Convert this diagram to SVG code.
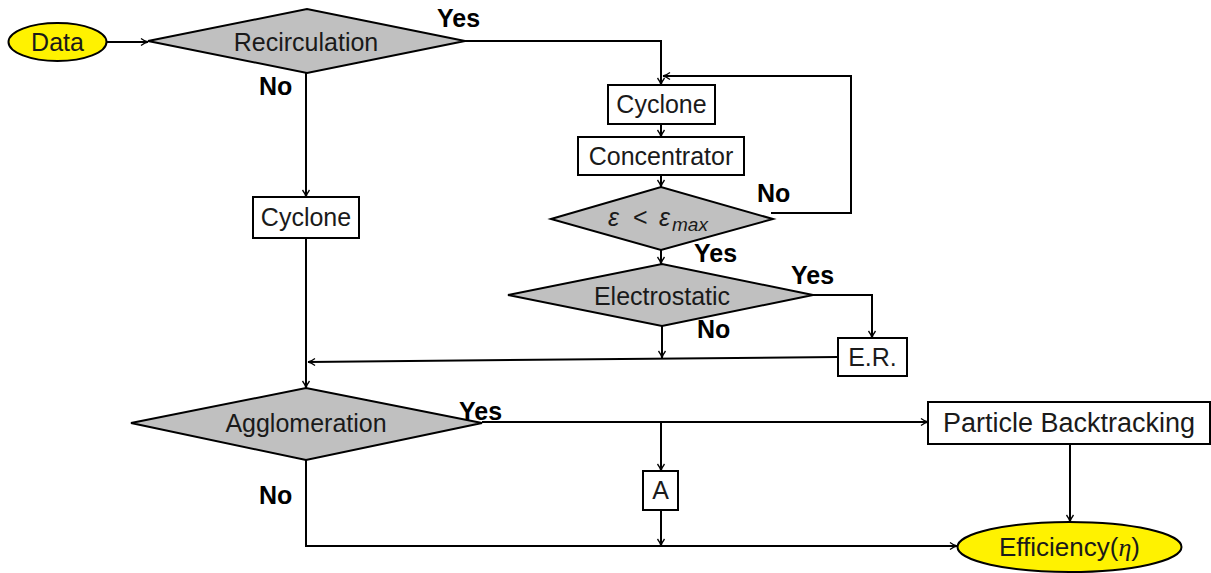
<svg xmlns="http://www.w3.org/2000/svg" width="1211" height="573" viewBox="0 0 1211 573">
  <style>
    .term { fill: #FFF200; stroke: #000; stroke-width: 2; }
    .dec { fill: #C0C0C0; stroke: #000; stroke-width: 2; }
    .box { fill: #FFFFFF; stroke: #000; stroke-width: 2; }
    .t { font-family: "Liberation Sans", Arial, sans-serif; font-size: 25px; fill: #1a1a1a; text-anchor: middle; }
    .lbl { font-family: "Liberation Sans", Arial, sans-serif; font-size: 25px; font-weight: bold; fill: #000; }
    .c { fill: none; stroke: #000; stroke-width: 2; }
    .ca { fill: none; stroke: #000; stroke-width: 2; marker-end: url(#arr); }
  </style>
  <defs>
    <marker id="arr" markerUnits="userSpaceOnUse" viewBox="-9 -5 10 10" refX="0" refY="0" markerWidth="10" markerHeight="10" orient="auto">
      <path d="M-7,-3.5 Q-3,-0.5 0,0 Q-3,0.5 -7,3.5" fill="none" stroke="#000" stroke-width="1.3"/>
    </marker>
  </defs>

  <g id="connectors">
    <path class="ca" d="M107,42 H148"/>
    <path class="ca" d="M465,41 H661 V85"/>
    <path class="ca" d="M306,73 V197"/>
    <path class="ca" d="M306,238 V388"/>
    <path class="ca" d="M661,124 V137"/>
    <path class="ca" d="M661,175 V187"/>
    <path class="ca" d="M771,213 H851 V76 H663"/>
    <path class="ca" d="M661,250 V264"/>
    <path class="ca" d="M813,295 H872 V338"/>
    <path class="ca" d="M662,326 V358"/>
    <path class="ca" d="M838,357 L308,362"/>
    <path class="ca" d="M482,422 H928"/>
    <path class="ca" d="M661,422 V471"/>
    <path class="ca" d="M661,510 V546"/>
    <path class="ca" d="M306,460 V546 H957"/>
    <path class="ca" d="M1070,444 V522"/>
    <text class="lbl" x="437" y="27">Yes</text>
    <text class="lbl" x="259" y="95">No</text>
    <text class="lbl" x="757" y="202">No</text>
    <text class="lbl" x="694" y="262">Yes</text>
    <text class="lbl" x="791" y="284">Yes</text>
    <text class="lbl" x="697" y="338">No</text>
    <text class="lbl" x="459" y="420">Yes</text>
    <text class="lbl" x="259" y="504">No</text>
  </g>

  <g id="data">
    <ellipse class="term" cx="57.5" cy="42" rx="49" ry="19"/>
    <text class="t" x="57.5" y="51">Data</text>
  </g>

  <g id="recirculation">
    <polygon class="dec" points="148,41 307,9 465,41 307,73"/>
    <text class="t" x="306" y="51">Recirculation</text>
  </g>

  <g id="cyclone-left">
    <rect class="box" x="253" y="197" width="106" height="41"/>
    <text class="t" x="306" y="226">Cyclone</text>
  </g>

  <g id="cyclone-right">
    <rect class="box" x="608" y="85" width="107" height="39"/>
    <text class="t" x="661.5" y="113">Cyclone</text>
  </g>

  <g id="concentrator">
    <rect class="box" x="578" y="137" width="166" height="38"/>
    <text class="t" x="661" y="165">Concentrator</text>
  </g>

  <g id="epsilon">
    <polygon class="dec" points="551,219 661,187 773,219 661,250"/>
    <text class="t" y="226" style="text-anchor:start"><tspan x="608" font-style="italic">ε</tspan><tspan x="633">&lt;</tspan><tspan x="659" font-style="italic">ε</tspan><tspan x="672" font-style="italic" font-size="19px" dy="5">max</tspan></text>
  </g>

  <g id="electrostatic">
    <polygon class="dec" points="508,295 662,264 813,295 662,326"/>
    <text class="t" x="662" y="305">Electrostatic</text>
  </g>

  <g id="er">
    <rect class="box" x="838" y="338" width="69" height="38"/>
    <text class="t" x="872.5" y="366">E.R.</text>
  </g>

  <g id="agglomeration">
    <polygon class="dec" points="131,423 306,388 482,423 306,460"/>
    <text class="t" x="306" y="432">Agglomeration</text>
  </g>

  <g id="a">
    <rect class="box" x="643" y="471" width="35" height="39"/>
    <text class="t" x="660.5" y="499">A</text>
  </g>

  <g id="particle-backtracking">
    <rect class="box" x="928" y="402" width="282" height="42"/>
    <text class="t" x="1069" y="432" style="font-size:27px">Particle Backtracking</text>
  </g>

  <g id="efficiency">
    <ellipse class="term" cx="1069.5" cy="547" rx="112" ry="25"/>
    <text class="t" x="1069.5" y="556" style="font-size:26px">Efficiency(<tspan font-style="italic" font-family="'Liberation Serif', serif">η</tspan>)</text>
  </g>
</svg>
